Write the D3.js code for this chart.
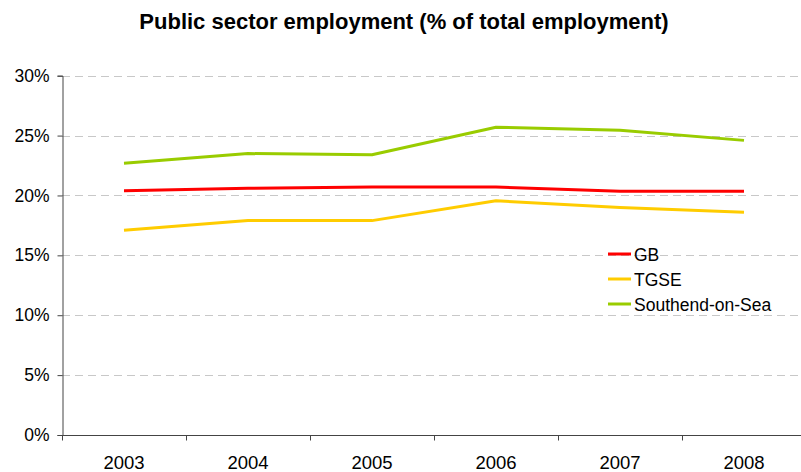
<!DOCTYPE html>
<html>
<head>
<meta charset="utf-8">
<script src="https://cdn.jsdelivr.net/npm/d3@7"></script>
<style>
  html, body { margin: 0; padding: 0; background: #fff; }
  svg { display: block; font-family: "Liberation Sans", Arial, sans-serif; }
</style>
</head>
<body>
<svg id="chart" width="801" height="472"></svg>
<script>
// Years on the category axis
const years = ["2003", "2004", "2005", "2006", "2007", "2008"];

// Public sector share of total employment, in percent
const gb = [20.4, 20.6, 20.7, 20.7, 20.35, 20.35];
const tgse = [17.1, 17.9, 17.9, 19.55, 19.0, 18.6];
const southend = [22.7, 23.5, 23.4, 25.7, 25.45, 24.6];

const seriesNames = ["GB", "TGSE", "Southend-on-Sea"];
const seriesColors = ["#ff0000", "#ffcc00", "#99cc00"];
const yTicks = [0, 5, 10, 15, 20, 25, 30];

const series = [gb, tgse, southend].map((values, i) => ({
  name: seriesNames[i], color: seriesColors[i], values
}));

const svg = d3.select("#chart");
const plotLeft = 62, plotRight = 806, plotTop = 75.7, plotBottom = 435;

const x = d3.scaleBand().domain(years).range([plotLeft, plotRight]).paddingInner(0).paddingOuter(0);
const y = d3.scaleLinear().domain([0, 30]).range([plotBottom, plotTop]);

// Title
svg.append("text")
  .attr("x", 404).attr("y", 29)
  .attr("text-anchor", "middle")
  .attr("font-size", 22).attr("font-weight", "bold")
  .text("Public sector employment (% of total employment)");

// Dashed horizontal gridlines
svg.append("g").selectAll("line")
  .data(yTicks.filter(d => d > 0))
  .join("line")
  .attr("x1", plotLeft).attr("x2", 801)
  .attr("y1", d => Math.round(y(d)) + 0.5).attr("y2", d => Math.round(y(d)) + 0.5)
  .attr("stroke", "#c8c8c8").attr("stroke-width", 1)
  .attr("stroke-dasharray", "8,5");

// Y axis
const yAxis = svg.append("g")
  .attr("transform", `translate(${plotLeft + 0.5},0)`)
  .call(d3.axisLeft(y).tickValues(yTicks).tickSize(5).tickPadding(8).tickFormat(d => d + "%"));
yAxis.select(".domain").attr("stroke", "#444");
yAxis.selectAll(".tick line").attr("stroke", "#444");
yAxis.selectAll("text").attr("font-size", 17.5).attr("fill", "#000")
  .attr("font-family", "Liberation Sans, Arial, sans-serif");

// X axis with ticks between categories
const xAxisG = svg.append("g").attr("transform", `translate(0,${Math.round(plotBottom) + 0.5})`);
xAxisG.append("line")
  .attr("x1", plotLeft).attr("x2", 801)
  .attr("stroke", "#444");
xAxisG.selectAll("line.tick")
  .data(years)
  .join("line")
  .attr("class", "tick")
  .attr("x1", d => Math.round(x(d)) + 0.5).attr("x2", d => Math.round(x(d)) + 0.5)
  .attr("y1", 0).attr("y2", 5)
  .attr("stroke", "#444");
xAxisG.selectAll("text")
  .data(years)
  .join("text")
  .attr("x", d => x(d) + x.bandwidth() / 2)
  .attr("y", 33)
  .attr("text-anchor", "middle")
  .attr("font-size", 18.5)
  .text(d => d);

// Series lines
const line = d3.line()
  .x((d, i) => x(years[i]) + x.bandwidth() / 2)
  .y(d => y(d));

svg.append("g").selectAll("path")
  .data(series)
  .join("path")
  .attr("d", d => line(d.values))
  .attr("fill", "none")
  .attr("stroke", d => d.color)
  .attr("stroke-width", 3)
  .attr("stroke-linejoin", "round");

// Legend
const legend = svg.append("g").attr("transform", "translate(608,254)");
const item = legend.selectAll("g")
  .data(series)
  .join("g")
  .attr("transform", (d, i) => `translate(0,${i * 25})`);
item.append("line")
  .attr("x1", 0).attr("x2", 23)
  .attr("stroke", d => d.color).attr("stroke-width", 3);
item.append("text")
  .attr("x", 26).attr("y", 6.5)
  .attr("font-size", 17.5)
  .text(d => d.name);
</script>
</body>
</html>
